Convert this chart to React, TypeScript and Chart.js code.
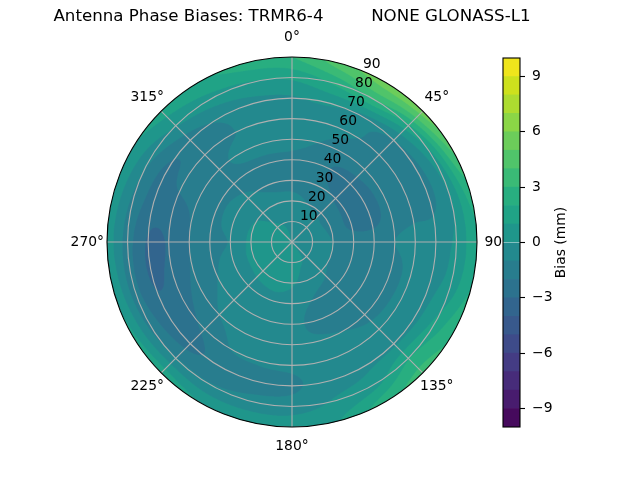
import React, { useEffect, useRef } from "react";
import { Chart, registerables } from "chart.js";

Chart.register(...registerables);
Chart.defaults.font.family = '"DejaVu Sans"';
Chart.defaults.color = "#000";

const chartTitle = "Antenna Phase Biases: TRMR6-4         NONE GLONASS-L1";
const colorbarLabel = "Bias (mm)";
const azimuthLabels = [0, 45, 90, 135, 180, 225, 270, 315];
const zenithRings = [10, 20, 30, 40, 50, 60, 70, 80, 90];
const colorbarTicks = [-9, -6, -3, 0, 3, 6, 9];
const levels = [-10, -9, -8, -7, -6, -5, -4, -3, -2, -1, 0, 1, 2, 3, 4, 5, 6, 7, 8, 9, 10];
const bandColors = [
  "#460a5d", "#481c6e", "#472c7a", "#443c84", "#3e4b89", "#38598c", "#32658e", "#2c728e", "#287d8e", "#23898e",
  "#1f968b", "#20a386", "#28ae80", "#3aba76", "#50c46a", "#6ccd5a", "#8bd646", "#addc30", "#cde11d", "#efe51c",
];
const gridAzimuths = [0, 15, 30, 45, 60, 75, 90, 105, 120, 135, 150, 165, 180, 195, 210, 225, 240, 255, 270, 285, 300, 315, 330, 345];
const gridZeniths = [0, 10, 20, 30, 40, 50, 60, 70, 80, 90];
const biasByAzimuth = [
  [0, -0.2, -0.7, -1.3, -1.2, -0.7, -0.4, -0.1, 1.2, 3],
  [0, -0.3, -0.9, -1.4, -1.4, -1.0, -0.6, 0.2, 2.2, 4.5],
  [0, -0.4, -1.1, -1.8, -2.1, -1.4, -0.9, -0.3, 3, 5.5],
  [0, -0.5, -1.2, -2.1, -2.3, -1.6, -1.5, -1.0, 1.8, 5.5],
  [0, -0.5, -1.3, -2.2, -2.4, -1.7, -1.5, -1.3, 0.6, 4.2],
  [0, -0.4, -1.2, -2.2, -2.3, -1.6, -1.3, -1.2, 0, 2.5],
  [0, -0.3, -1.0, -1.4, -1.5, -1.0, -0.6, -0.4, 0.2, 1.8],
  [0, -0.3, -1, -1.4, -1.7, -1.5, -0.6, -0.3, 0.4, 2.0],
  [0, -0.3, -1.0, -1.5, -1.8, -1.5, -0.6, -0.3, 1.3, 2.8],
  [0, -0.2, -0.8, -1.4, -1.7, -1.3, -0.6, -0.2, 1.9, 3.3],
  [0, 0, -0.5, -1.3, -1.6, -1.0, -0.5, -0.2, 0.6, 2.5],
  [0.1, 0.1, -0.2, -0.9, -1.3, -0.8, -0.5, -0.4, 0.1, 1.0],
  [0.2, 0.3, 0.1, -0.4, -0.6, -0.7, -0.8, -1.2, -0.5, 0.6],
  [0.3, 0.3, 0.2, -0.2, -0.5, -0.7, -0.9, -1.3, -0.7, 0.7],
  [0.3, 0.4, 0.2, -0.2, -0.5, -0.7, -1.0, -1.6, -0.9, 1.0],
  [0.3, 0.4, 0.2, -0.3, -0.6, -1.0, -1.8, -2.3, -0.9, 1.5],
  [0.3, 0.4, 0.2, -0.5, -0.9, -1.5, -2.3, -2.6, -1.3, 1.2],
  [0.3, 0.4, 0.2, -0.6, -1.2, -1.9, -2.7, -3.1, -1.6, 0.8],
  [0.3, 0.4, 0.2, -0.9, -1.4, -2.0, -2.9, -3.1, -1.5, 0.5],
  [0.3, 0.4, 0.1, -0.6, -1.3, -1.9, -2.5, -2.5, -1.2, 0.6],
  [0.2, 0.3, 0, -0.6, -1.2, -1.4, -1.7, -2.2, -0.8, 0.9],
  [0.1, 0.1, -0.3, -0.8, -1.3, -1.3, -1.7, -1.5, 0.1, 1.4],
  [0.1, 0, -0.5, -1.1, -1.3, -0.7, -1.1, -0.8, 0.6, 1.8],
  [0, -0.1, -0.6, -1.3, -1.2, -0.7, -0.6, -0.3, 0.9, 2.5],
];

const hexRgb = (h: string) => [parseInt(h.slice(1, 3), 16), parseInt(h.slice(3, 5), 16), parseInt(h.slice(5, 7), 16)];
const cr = (a: number, b: number, c: number, d: number, t: number) =>
  0.5 * (2 * b + (c - a) * t + (2 * a - 5 * b + 4 * c - d) * t * t + (3 * b - a - 3 * c + d) * t * t * t);

function fieldAt(az: number, zen: number) {
  const na = gridAzimuths.length;
  const nz = gridZeniths.length;
  const fa = ((az % 360) + 360) % 360 / (360 / na);
  const ia = Math.floor(fa);
  const ta = fa - ia;
  const fz = Math.min(zen, 90) / 10;
  const iz = Math.min(Math.floor(fz), nz - 2);
  const tz = fz - iz;
  const col = (k: number) => {
    const r = biasByAzimuth[((ia + k) % na + na) % na];
    const g = (j: number) => r[Math.max(0, Math.min(nz - 1, j))];
    return cr(g(iz - 1), g(iz), g(iz + 1), g(iz + 2), tz);
  };
  return cr(col(-1), col(0), col(1), col(2), ta);
}

const polarPlugin = {
  id: "polarContour",
  beforeDatasetsDraw(chart: any) {
    const { ctx, chartArea: ca, scales } = chart;
    const sx = scales.x;
    const sy = scales.y;
    const ss = 3;
    const w = Math.ceil(ca.width) * ss;
    const h = Math.ceil(ca.height) * ss;
    const off = document.createElement("canvas");
    off.width = w;
    off.height = h;
    const octx = off.getContext("2d")!;
    const img = octx.createImageData(w, h);
    const rgb = bandColors.map(hexRgb);
    for (let j = 0; j < h; j++) {
      const vy = sy.getValueForPixel(ca.top + (j + 0.5) / ss);
      for (let i = 0; i < w; i++) {
        const vx = sx.getValueForPixel(ca.left + (i + 0.5) / ss);
        const zen = Math.hypot(vx, vy);
        if (zen > 91) continue;
        const az = (Math.atan2(vx, vy) * 180) / Math.PI;
        const v = fieldAt(az, zen);
        let b = 0;
        while (b < bandColors.length - 1 && v >= levels[b + 1]) b++;
        const p = (j * w + i) * 4;
        img.data[p] = rgb[b][0];
        img.data[p + 1] = rgb[b][1];
        img.data[p + 2] = rgb[b][2];
        img.data[p + 3] = 255;
      }
    }
    octx.putImageData(img, 0, 0);
    const cx = sx.getPixelForValue(0);
    const cy = sy.getPixelForValue(0);
    const rOf = (z: number) => Math.abs(sx.getPixelForValue(z) - cx);
    ctx.save();
    ctx.beginPath();
    ctx.arc(cx, cy, rOf(90), 0, Math.PI * 2);
    ctx.clip();
    ctx.imageSmoothingEnabled = true;
    ctx.imageSmoothingQuality = "high";
    ctx.drawImage(off, ca.left, ca.top, w / ss, h / ss);
    ctx.restore();

    ctx.save();
    ctx.strokeStyle = "#b0b0b0";
    ctx.lineWidth = 1.1;
    zenithRings.slice(0, -1).forEach((z) => {
      ctx.beginPath();
      ctx.arc(cx, cy, rOf(z), 0, Math.PI * 2);
      ctx.stroke();
    });
    azimuthLabels.forEach((a) => {
      const t = (a * Math.PI) / 180;
      ctx.beginPath();
      ctx.moveTo(cx, cy);
      ctx.lineTo(sx.getPixelForValue(90 * Math.sin(t)), sy.getPixelForValue(90 * Math.cos(t)));
      ctx.stroke();
    });
    ctx.strokeStyle = "#000";
    ctx.beginPath();
    ctx.arc(cx, cy, rOf(90), 0, Math.PI * 2);
    ctx.stroke();

    ctx.fillStyle = "#000";
    ctx.textAlign = "center";
    ctx.textBaseline = "middle";
    ctx.font = '16.67px "DejaVu Sans"';
    ctx.fillText(chartTitle, cx, 17);
    ctx.font = '13.89px "DejaVu Sans"';
    azimuthLabels.forEach((a) => {
      const t = (a * Math.PI) / 180;
      const z = 99.6;
      ctx.fillText(`${a}°`, sx.getPixelForValue(z * Math.sin(t)), sy.getPixelForValue(z * Math.cos(t)));
    });
    const rt = (22.5 * Math.PI) / 180;
    zenithRings.forEach((z) => {
      ctx.fillText(String(z), sx.getPixelForValue(z * Math.sin(rt)) + 9, sy.getPixelForValue(z * Math.cos(rt)) - 7);
    });
    ctx.restore();
  },
};

const colorbarPlugin = {
  id: "colorbarFrame",
  afterDraw(chart: any) {
    const { ctx, chartArea: ca } = chart;
    ctx.save();
    ctx.strokeStyle = "#000";
    ctx.lineWidth = 1.1;
    ctx.strokeRect(ca.left, ca.top, ca.width, ca.height);
    ctx.translate(561.5, (ca.top + ca.bottom) / 2);
    ctx.rotate(-Math.PI / 2);
    ctx.font = '13.89px "DejaVu Sans"';
    ctx.fillStyle = "#000";
    ctx.textAlign = "center";
    ctx.textBaseline = "middle";
    ctx.fillText(colorbarLabel, 0, 0);
    ctx.restore();
  },
};

export default function App() {
  const mainRef = useRef<HTMLCanvasElement>(null);
  const barRef = useRef<HTMLCanvasElement>(null);
  useEffect(() => {
    document.body.style.margin = "0";
    const nodes: { x: number; y: number; v: number }[] = [];
    gridAzimuths.forEach((a, i) =>
      gridZeniths.forEach((z, j) => {
        const t = (a * Math.PI) / 180;
        nodes.push({ x: z * Math.sin(t), y: z * Math.cos(t), v: biasByAzimuth[i][j] });
      })
    );
    const main = new Chart(mainRef.current!, {
      type: "scatter",
      data: { datasets: [{ label: "Bias (mm)", data: nodes as any, pointRadius: 0 }] },
      options: {
        animation: false,
        responsive: false,
        devicePixelRatio: 1,
        layout: { padding: { left: 107, right: 163, top: 57, bottom: 53 } },
        plugins: {
          legend: { display: false },
          tooltip: { enabled: false },
          title: { display: false },
        },
        scales: {
          x: { type: "linear", min: -90, max: 90, display: false },
          y: { type: "linear", min: -90, max: 90, display: false },
        },
      },
      plugins: [polarPlugin],
    });
    const bar = new Chart(barRef.current!, {
      type: "bar",
      data: {
        labels: ["Bias (mm)"],
        datasets: bandColors.map((c, i) => ({
          label: `${levels[i]}`,
          data: [[levels[i], levels[i + 1]]] as any,
          backgroundColor: c,
          borderWidth: 0,
          barPercentage: 1,
          categoryPercentage: 1,
        })),
      },
      options: {
        animation: false,
        responsive: false,
        devicePixelRatio: 1,
        layout: { padding: { left: 503, right: 0, top: 58, bottom: 53 } },
        plugins: { legend: { display: false }, tooltip: { enabled: false } },
        scales: {
          x: { stacked: true, display: false },
          y: {
            type: "linear",
            position: "right",
            min: -10,
            max: 10,
            border: { display: false },
            grid: { drawOnChartArea: false, drawTicks: true, tickLength: 5, tickColor: "#000", tickWidth: 1.1 },
            ticks: {
              padding: 7,
              autoSkip: false,
              color: "#000",
              font: { size: 13.89 },
              callback: (v: any) => (Number(v) < 0 ? `\u2212${Math.abs(Number(v))}` : `${v}`),
            },
            afterBuildTicks: (s: any) => {
              s.ticks = colorbarTicks.map((value) => ({ value }));
            },
            afterFit: (s: any) => {
              s.width = 120;
            },
          },
        },
      },
      plugins: [colorbarPlugin],
    });
    return () => {
      main.destroy();
      bar.destroy();
    };
  }, []);
  return (
    <div style={{ position: "relative", width: 640, height: 480 }}>
      <canvas ref={mainRef} width={640} height={480} style={{ position: "absolute", left: 0, top: 0, display: "block" }} />
      <canvas ref={barRef} width={640} height={480} style={{ position: "absolute", left: 0, top: 0, display: "block" }} />
    </div>
  );
}
